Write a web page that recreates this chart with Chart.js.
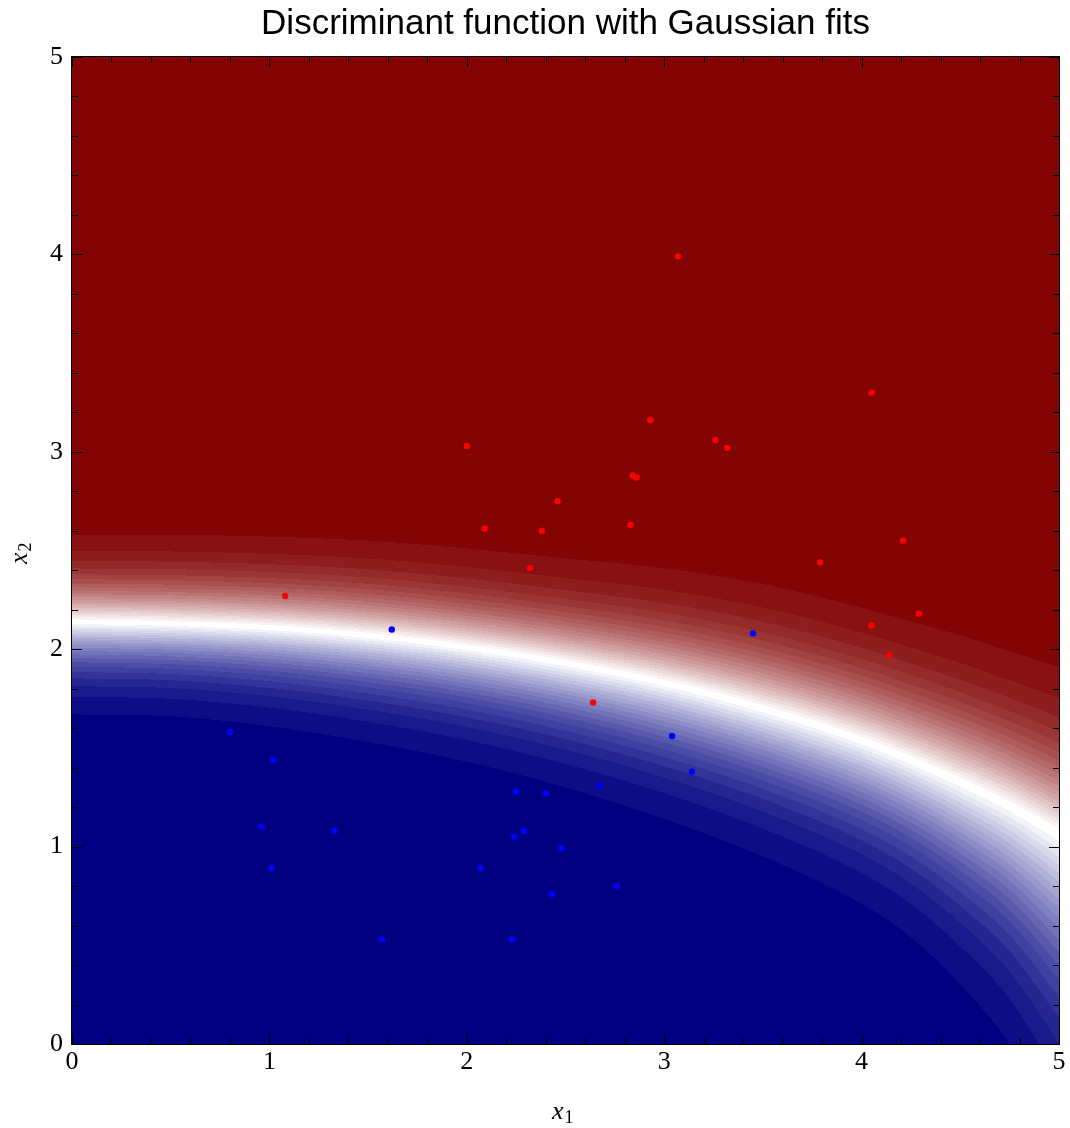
<!DOCTYPE html>
<html>
<head>
<meta charset="utf-8">
<script src="https://cdn.jsdelivr.net/npm/chart.js@4.4.1/dist/chart.umd.min.js"></script>
<style>
  html, body { margin: 0; padding: 0; background: #fff; }
</style>
</head>
<body>
<canvas id="discChart" width="1070" height="1128"></canvas>
<script>
// samples of the "red" class
const redX = [3.07, 4.05, 2.93, 2.00, 3.26, 3.32, 2.84, 2.86, 2.46, 2.09, 2.38, 2.83, 4.21, 2.32, 3.79, 1.08, 4.29, 4.05, 4.14, 2.64];
const redY = [3.99, 3.30, 3.16, 3.03, 3.06, 3.02, 2.88, 2.87, 2.75, 2.61, 2.60, 2.63, 2.55, 2.41, 2.44, 2.27, 2.18, 2.12, 1.97, 1.73];
// samples of the "blue" class
const blueX = [1.62, 3.45, 0.80, 3.04, 1.02, 3.14, 2.67, 2.25, 2.40, 0.96, 1.33, 2.29, 2.24, 2.48, 1.01, 2.07, 2.76, 2.43, 1.57, 2.23];
const blueY = [2.10, 2.08, 1.58, 1.56, 1.44, 1.38, 1.31, 1.28, 1.27, 1.10, 1.08, 1.08, 1.05, 0.99, 0.89, 0.89, 0.80, 0.76, 0.53, 0.53];

// contour outline of the discriminant
const fieldX    = [0,    0.5,  1,    1.5,  2,    2.5,  3,    3.5,  4,    4.25, 4.5,  4.75, 5];
const boundaryY = [2.14, 2.13, 2.11, 2.07, 2.01, 1.93, 1.83, 1.70, 1.54, 1.44, 1.33, 1.21, 1.07];
const redEdgeY  = [2.58, 2.58, 2.57, 2.55, 2.51, 2.46, 2.41, 2.33, 2.21, 2.14, 2.07, 1.99, 1.91];
const blueEdgeY = [1.67, 1.66, 1.61, 1.53, 1.43, 1.30, 1.14, 0.95, 0.71, 0.54, 0.30, 0.00, -0.46];

const tickValues = [0, 1, 2, 3, 4, 5];

const darkRed = [130, 4, 4];
const darkBlue = [0, 0, 128];
const nLevels = 20;

// smooth curve through the read points (cubic hermite)
function curveAt(xs, ys, x) {
  const n = xs.length;
  if (x <= xs[0]) return ys[0];
  if (x >= xs[n - 1]) return ys[n - 1];
  const slope = i => {
    if (i === 0) return (ys[1] - ys[0]) / (xs[1] - xs[0]);
    if (i === n - 1) return (ys[n - 1] - ys[n - 2]) / (xs[n - 1] - xs[n - 2]);
    return ((ys[i + 1] - ys[i]) / (xs[i + 1] - xs[i]) + (ys[i] - ys[i - 1]) / (xs[i] - xs[i - 1])) / 2;
  };
  let i = 0;
  while (x > xs[i + 1]) i++;
  const h = xs[i + 1] - xs[i], t = (x - xs[i]) / h;
  const t2 = t * t, t3 = t2 * t;
  return (2 * t3 - 3 * t2 + 1) * ys[i] + (t3 - 2 * t2 + t) * h * slope(i) +
         (-2 * t3 + 3 * t2) * ys[i + 1] + (t3 - t2) * h * slope(i + 1);
}

// paints the stepped contour field behind the points
const fieldPlugin = {
  id: 'field',
  beforeDatasetsDraw(chart) {
    const { ctx, chartArea: a, scales: { x, y } } = chart;
    const w = Math.round(a.right - a.left), h = Math.round(a.bottom - a.top);
    const off = document.createElement('canvas');
    off.width = w; off.height = h;
    const octx = off.getContext('2d');
    const img = octx.createImageData(w, h);
    const A = 1.83, norm = Math.tanh(A);
    for (let i = 0; i < w; i++) {
      const xv = x.getValueForPixel(a.left + i + 0.5);
      const yw = curveAt(fieldX, boundaryY, xv);
      const yr = curveAt(fieldX, redEdgeY, xv);
      const yb = curveAt(fieldX, blueEdgeY, xv);
      for (let j = 0; j < h; j++) {
        const yv = y.getValueForPixel(a.top + j + 0.5);
        let u, dark;
        if (yv >= yw) { u = (yv - yw) / (yr - yw); dark = darkRed; }
        else { u = (yw - yv) / (yw - yb); dark = darkBlue; }
        const v = Math.min(1, Math.tanh(A * u) / norm);
        const t = Math.min(nLevels, Math.floor(v * nLevels)) / nLevels;
        const k = (j * w + i) * 4;
        img.data[k] = 255 + (dark[0] - 255) * t;
        img.data[k + 1] = 255 + (dark[1] - 255) * t;
        img.data[k + 2] = 255 + (dark[2] - 255) * t;
        img.data[k + 3] = 255;
      }
    }
    octx.putImageData(img, 0, 0);
    ctx.drawImage(off, a.left, a.top);
  }
};

// frame, inward ticks on all four sides, axis titles with subscripts
const framePlugin = {
  id: 'frame',
  afterDraw(chart) {
    const { ctx, chartArea: a, scales: { x, y } } = chart;
    ctx.save();
    ctx.strokeStyle = '#000';
    ctx.lineWidth = 1;
    ctx.strokeRect(a.left - 0.5, a.top - 0.5, a.right - a.left + 1, a.bottom - a.top + 1);
    ctx.beginPath();
    for (let k = 0; k <= 25; k++) {
      const v = k / 5;
      const len = k % 5 === 0 ? 10 : 6;
      const px = Math.round(x.getPixelForValue(v)) + 0.5;
      const py = Math.round(y.getPixelForValue(v)) + 0.5;
      ctx.moveTo(px, a.bottom); ctx.lineTo(px, a.bottom - len);
      ctx.moveTo(px, a.top); ctx.lineTo(px, a.top + len);
      ctx.moveTo(a.left, py); ctx.lineTo(a.left + len, py);
      ctx.moveTo(a.right, py); ctx.lineTo(a.right - len, py);
    }
    ctx.stroke();

    ctx.fillStyle = '#000';
    ctx.textBaseline = 'alphabetic';
    const cx = (a.left + a.right) / 2;
    ctx.font = "italic 26px 'Liberation Serif', 'Times New Roman', serif";
    ctx.textAlign = 'right';
    ctx.fillText('x', cx - 2, 1119);
    ctx.font = "18px 'Liberation Serif', 'Times New Roman', serif";
    ctx.textAlign = 'left';
    ctx.fillText('1', cx - 1, 1123);

    const cy = (a.top + a.bottom) / 2;
    ctx.translate(27, cy);
    ctx.rotate(-Math.PI / 2);
    ctx.font = "italic 26px 'Liberation Serif', 'Times New Roman', serif";
    ctx.textAlign = 'right';
    ctx.fillText('x', -2, 0);
    ctx.font = "18px 'Liberation Serif', 'Times New Roman', serif";
    ctx.textAlign = 'left';
    ctx.fillText('2', -1, 4);
    ctx.restore();
  }
};

const tickFont = { family: "'Liberation Serif', 'Times New Roman', serif", size: 26 };

new Chart(document.getElementById('discChart').getContext('2d'), {
  type: 'scatter',
  data: {
    datasets: [
      {
        label: 'red',
        data: redX.map((v, i) => ({ x: v, y: redY[i] })),
        backgroundColor: '#ff0000',
        borderWidth: 0,
        pointRadius: 3.2
      },
      {
        label: 'blue',
        data: blueX.map((v, i) => ({ x: v, y: blueY[i] })),
        backgroundColor: '#0000ff',
        borderWidth: 0,
        pointRadius: 3.2
      }
    ]
  },
  options: {
    responsive: false,
    animation: false,
    layout: { padding: { left: 0, right: 11, top: 0, bottom: 0 } },
    plugins: {
      legend: { display: false },
      tooltip: { enabled: false },
      title: {
        display: true,
        text: 'Discriminant function with Gaussian fits',
        fullSize: false,
        color: '#000',
        font: { family: "'Liberation Sans', Arial, sans-serif", size: 35, weight: 'normal', lineHeight: 1.2 },
        padding: { top: 3, bottom: 12 }
      }
    },
    scales: {
      x: {
        type: 'linear', min: 0, max: 5,
        grid: { display: false, drawTicks: false },
        border: { display: false },
        afterBuildTicks: s => { s.ticks = tickValues.map(v => ({ value: v })); },
        ticks: { padding: 3, color: '#000', font: tickFont, maxRotation: 0 },
        afterFit: s => { s.height = 84; }
      },
      y: {
        type: 'linear', min: 0, max: 5,
        grid: { display: false, drawTicks: false },
        border: { display: false },
        afterBuildTicks: s => { s.ticks = tickValues.map(v => ({ value: v })); },
        ticks: { padding: 9, color: '#000', font: tickFont },
        afterFit: s => { s.width = 72; }
      }
    }
  },
  plugins: [fieldPlugin, framePlugin]
});
</script>
</body>
</html>
